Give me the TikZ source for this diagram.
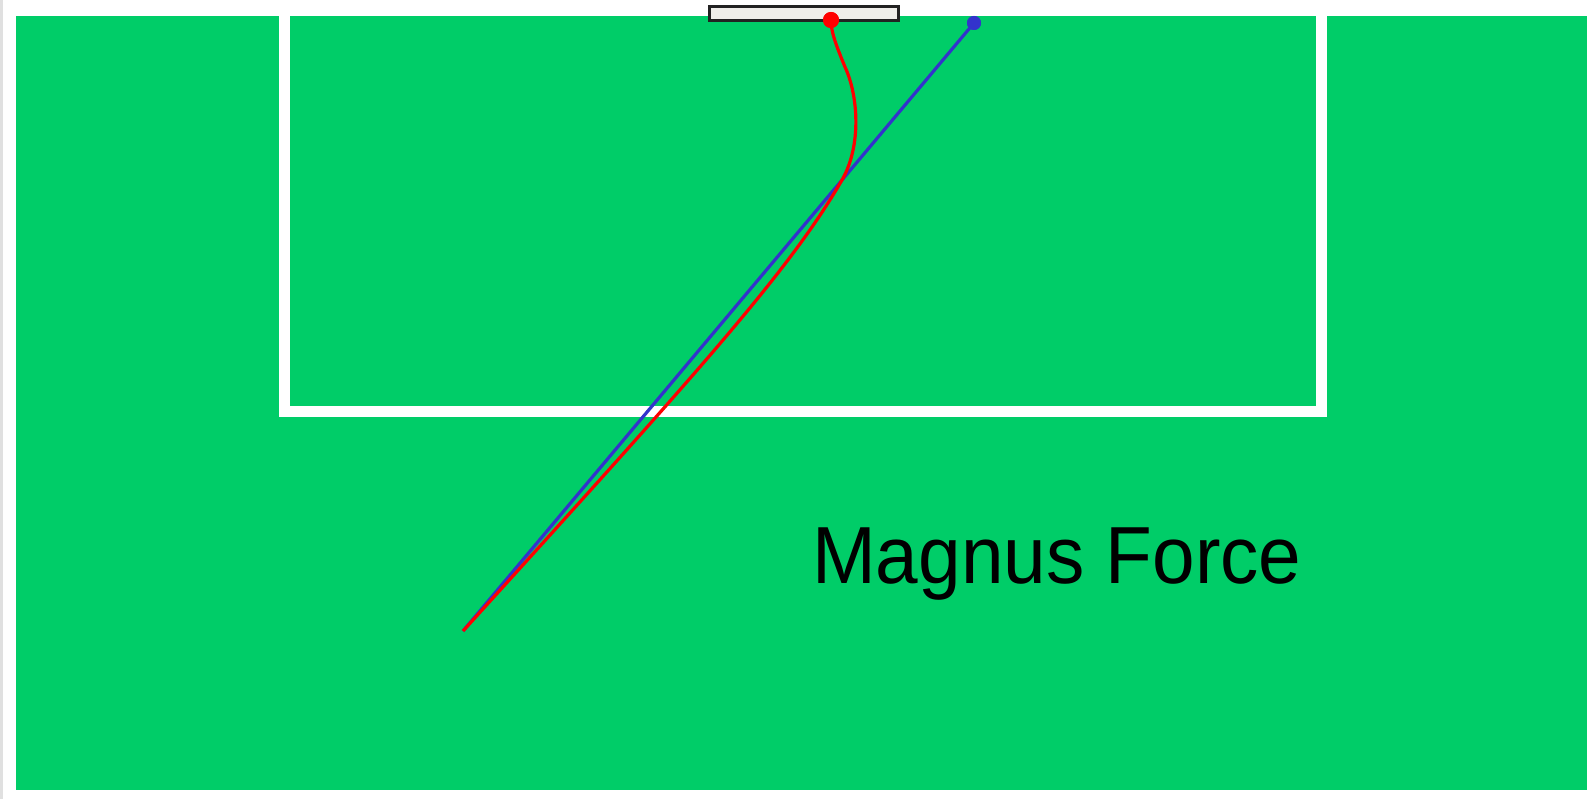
\documentclass[tikz,border=0pt]{standalone}
\usepackage{fontspec}
\setmainfont{Liberation Sans}
\definecolor{pitch}{HTML}{00CD68}
\definecolor{goalfill}{HTML}{EFEEEA}
\definecolor{goalline}{HTML}{222222}
\definecolor{ballblue}{HTML}{3333CC}
\definecolor{ballred}{HTML}{FF0000}
\begin{document}
\begin{tikzpicture}[x=1pt,y=-1pt,
  markline/.style={white,line width=11pt,line join=miter},
  shotline/.style={line width=3.2pt},
  ball/.style={circle,inner sep=0pt,minimum size=#1},
  label/.style={inner sep=0pt,anchor=base west,font=\fontsize{81}{90}\selectfont}]
\useasboundingbox (0,0) rectangle (1591,799);
\fill[white] (0,0) rectangle (1591,799);
\fill[black!12] (0,0) rectangle (3,799);
\fill[pitch] (16,16) rectangle (1587,790);
% penalty box
\draw[markline] (284,10) -- (284,412) -- (1321,412) -- (1321,10);
% goal
\node[draw=goalline,fill=goalfill,line width=3pt,minimum width=189pt,minimum height=14pt,inner sep=0pt] (goal) at (803.5,14) {};
% points
\coordinate (start) at (463,631);
\node[ball=16pt,fill=ballred] (redball) at (831,20) {};
\node[ball=14pt,fill=ballblue] (blueball) at (974,23) {};
% trajectories
\draw[shotline,ballblue] (start) -- (blueball.center);
\draw[shotline,ballred] (start) .. controls (700,370) and (790,270) .. (842,180)
  .. controls (862,145) and (858,95) .. (845,67)
  .. controls (836,45) and (831,32) .. (redball.center);
\node[ball=16pt,fill=ballred] at (redball) {};
\node[ball=14pt,fill=ballblue] at (blueball) {};
% label
\node[label] (title) at (812,583) {\scalebox{0.945}[1]{Magnus Force}};
\end{tikzpicture}
\end{document}
